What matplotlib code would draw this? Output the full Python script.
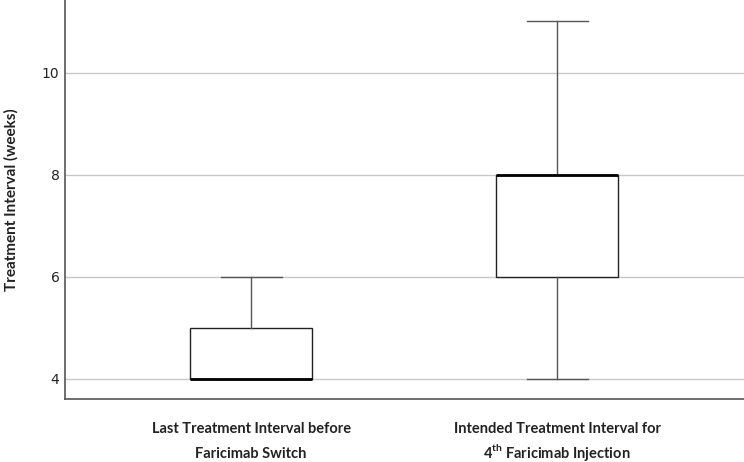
import matplotlib.pyplot as plt

# box plot summaries (weeks)
categories = ["Last Treatment Interval before\nFaricimab Switch",
              "Intended Treatment Interval for\n4$^{\\mathbf{th}}$ Faricimab Injection"]
whisker_low = [4, 4]
q1 = [4, 6]
median = [4, 8]
q3 = [5, 8]
whisker_high = [6, 11]
yticks = [4, 6, 8, 10]

plt.rcParams['mathtext.fontset'] = 'custom'
plt.rcParams['mathtext.bf'] = 'Lato:bold'
plt.rcParams['mathtext.rm'] = 'Lato'

fig = plt.figure(figsize=(7.44, 4.62), dpi=100)
ax = fig.add_axes([65 / 744, 63.5 / 462, 1 - 65 / 744, 1 - 63.5 / 462])

stats = []
for i in range(len(categories)):
    stats.append(dict(whislo=whisker_low[i], q1=q1[i], med=median[i],
                      q3=q3[i], whishi=whisker_high[i], fliers=[]))

ax.set_axisbelow(True)
ax.yaxis.grid(True, color="#c8c8c8", linewidth=1.0)
positions = [1, 2]
ax.bxp(stats, positions=positions, widths=0.40, showfliers=False, patch_artist=True,
       boxprops=dict(facecolor="white", edgecolor="#222222", linewidth=1.0),
       whiskerprops=dict(color="#555555", linewidth=1.0),
       capprops=dict(color="#555555", linewidth=1.0),
       medianprops=dict(color="black", linewidth=2.0),
       capwidths=0.20)

ax.set_xlim(0.392, 2.61)
ax.set_ylim(3.615, 11.42)
ax.set_yticks(yticks)
ax.set_yticklabels([str(v) for v in yticks], fontsize=10, color="#222222")
ax.set_xticks(positions)
ax.set_xticklabels(["", ""])
ax.tick_params(length=0, pad=4)

# two-line category labels, each line placed on its own baseline
trans = ax.get_xaxis_transform()
for pos, label in zip(positions, categories):
    for k, line in enumerate(label.split("\n")):
        ax.text(pos, -0.0873 - 0.063 * k, line, transform=trans, ha="center",
                va="baseline", fontsize=10.5, fontweight="bold", family="Lato",
                color="#222222")

ax.set_ylabel("Treatment Interval (weeks)", fontsize=11, fontweight="bold",
              family="Lato", color="#222222", labelpad=17)

for s in ["top", "right"]:
    ax.spines[s].set_visible(False)
for s in ["left", "bottom"]:
    ax.spines[s].set_color("#555555")
    ax.spines[s].set_linewidth(1.2)

fig.savefig("out.png", dpi=100)
